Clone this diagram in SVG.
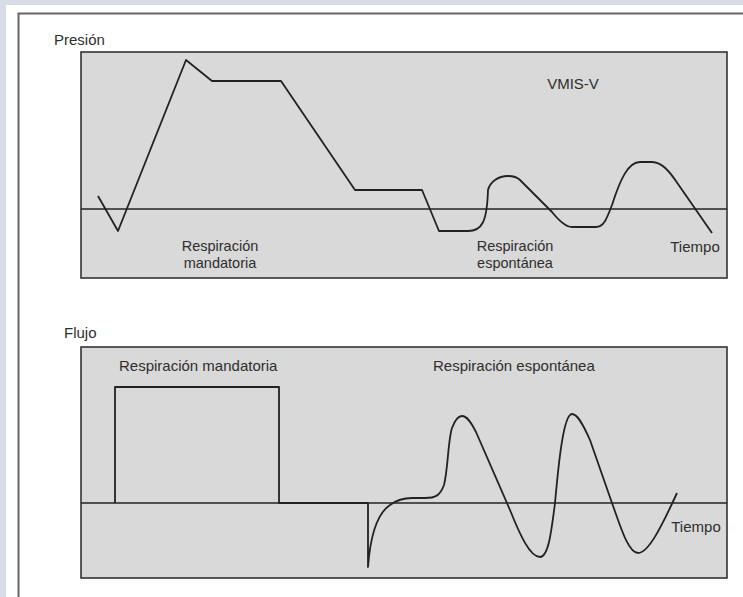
<svg xmlns="http://www.w3.org/2000/svg" width="743" height="597" viewBox="0 0 743 597">
<style>
.lbl{font-family:"Liberation Sans",Arial,sans-serif;font-size:15px;fill:#2e2e2e}
.two{font-size:14.5px}
.panel{fill:#d9d9d9;stroke:#333;stroke-width:1.6}
.axis{stroke:#222;stroke-width:1.4;fill:none}
.curve{stroke:#222;stroke-width:1.8;fill:none;stroke-linejoin:round}
</style>
<rect x="0" y="0" width="743" height="597" fill="#d6dde6"/>
<rect x="6" y="5" width="737" height="592" fill="#ffffff"/>
<path d="M18.5,600 L18.5,13.5 L745,13.5" fill="none" stroke="#666" stroke-width="2"/>

<g id="presion">
<text class="lbl" x="54" y="45">Presión</text>
<rect class="panel" x="81" y="52" width="646" height="226"/>
<line class="axis" x1="81" y1="209" x2="727" y2="209"/>
<g id="conn-presion">
<path class="curve" d="M98,196 L118,231 L186,60 L212,81 L281,81 L355,190 L422,190 L439,231 L468,231 C482,231 487,222 488,190 C490,182 498,176 508,176 C513,176 517,177 520,180 L552,212 C560,222 566,227 572,227 L596,227 C604,227 607,218 612,205 C620,180 628,162 640,162 L652,162 C662,162 670,172 678,184 L712,233"/>
</g>
<text class="lbl" x="573" y="89" text-anchor="middle">VMIS-V</text>
<text class="lbl two" x="220" y="251" text-anchor="middle">Respiración</text>
<text class="lbl two" x="220" y="268" text-anchor="middle">mandatoria</text>
<text class="lbl two" x="515" y="251" text-anchor="middle">Respiración</text>
<text class="lbl two" x="515" y="268" text-anchor="middle">espontánea</text>
<text class="lbl" x="695" y="252" text-anchor="middle">Tiempo</text>
</g>

<g id="flujo">
<text class="lbl" x="64" y="338">Flujo</text>
<rect class="panel" x="81" y="347" width="646" height="231"/>
<line class="axis" x1="81" y1="503" x2="727" y2="503"/>
<g id="conn-flujo">
<path class="curve" d="M115,503 L115,387 L279,387 L279,503 L368,503 L368,567 C370,540 375,515 390,505 C398,499 405,498 412,498 L425,498 C435,498 440,496 444,485 C448,470 448,440 452,428 C455,420 458,416 462,416 C467,416 471,422 476,432 L510,510 C520,535 530,557 540,557 C548,557 551,535 555,503 C558,470 563,414 572,414 C577,414 582,422 590,440 L612,503 C620,525 628,553 638,553 C648,553 660,530 677,493"/>
</g>
<text class="lbl" x="119" y="371">Respiración mandatoria</text>
<text class="lbl" x="433" y="371">Respiración espontánea</text>
<text class="lbl" x="696" y="532" text-anchor="middle">Tiempo</text>
</g>
</svg>
